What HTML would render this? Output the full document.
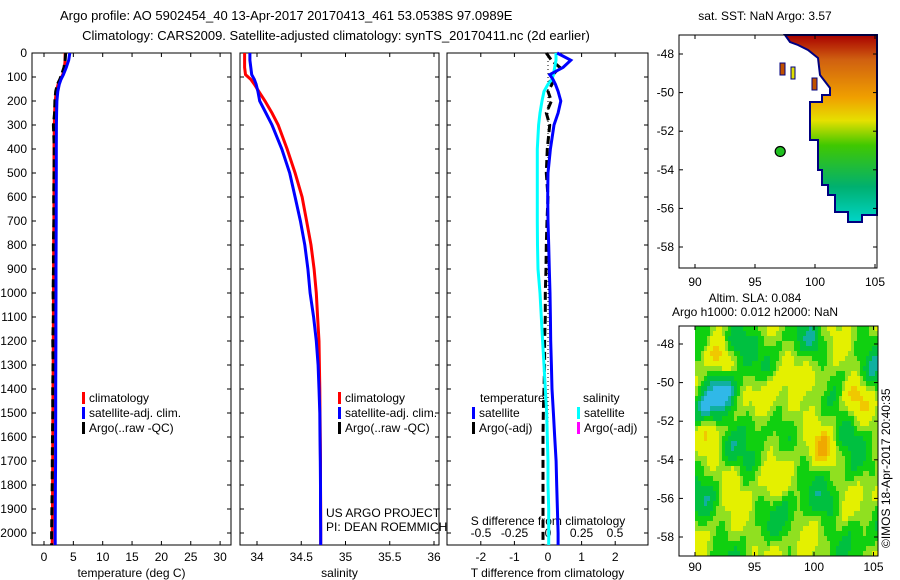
<!DOCTYPE html>
<html><head><meta charset="utf-8"><style>
body{margin:0;background:#fff}
svg{display:block;font-family:"Liberation Sans",sans-serif}
</style></head><body>
<svg id="c" width="900" height="580" xmlns="http://www.w3.org/2000/svg">
<defs>
<linearGradient id="sstg" x1="0" y1="35" x2="0" y2="225" gradientUnits="userSpaceOnUse">
<stop offset="0" stop-color="#a80000"/><stop offset="0.13" stop-color="#d06010"/><stop offset="0.33" stop-color="#f0a000"/><stop offset="0.45" stop-color="#e6e000"/><stop offset="0.58" stop-color="#40c800"/><stop offset="0.8" stop-color="#00b070"/><stop offset="1" stop-color="#00d8d0"/>
</linearGradient>
</defs>
<text x="60" y="20" font-size="13">Argo profile: AO 5902454_40 13-Apr-2017 20170413_461 53.0538S 97.0989E</text>
<text x="336" y="40" font-size="13" text-anchor="middle">Climatology: CARS2009. Satellite-adjusted climatology: synTS_20170411.nc (2d earlier)</text>
<g id="g"></g>
</svg>
<script>
// ---- data ----
const depthTicks=[0,100,200,300,400,500,600,700,800,900,1000,1100,1200,1300,1400,1500,1600,1700,1800,1900,2000];
const tempTicks=[0,5,10,15,20,25,30];
const salTicks=[34,34.5,35,35.5,36];
const tdTicks=[-2,-1,0,1,2];
const sdTicks=[-0.5,-0.25,0,0.25,0.5];
const sdTickLabels=["-0.5","-0.25","0","0.25","0.5"];
const profDepth=[0,30,60,90,110,130,160,200,250,300,400,500,600,700,800,900,1000,1100,1200,1300,1400,1500,1600,1700,1800,1900,2000,2050];
const tempClim=[3.6,3.6,3.5,3.2,2.8,2.4,2.1,1.9,1.8,1.75,1.7,1.7,1.7,1.68,1.66,1.64,1.62,1.6,1.58,1.56,1.54,1.52,1.5,1.48,1.46,1.44,1.42,1.4];
const tempSat=[4.4,4.2,3.8,3.3,2.9,2.6,2.35,2.2,2.15,2.12,2.1,2.1,2.08,2.07,2.06,2.05,2.04,2.03,2.02,2.01,2.0,1.99,1.98,1.97,1.95,1.93,1.9,1.9];
const tempArgo=[3.7,3.6,3.4,3.0,2.7,2.3,2.0,1.85,1.8,1.6,1.75,1.7,1.65,1.68,1.6,1.62,1.55,1.6,1.5,1.55,1.48,1.5,1.45,1.42,1.4,1.35,1.3,1.3];
const salClim=[33.86,33.86,33.86,33.87,33.93,33.97,34.02,34.09,34.17,34.24,34.34,34.43,34.51,34.56,34.61,34.645,34.67,34.685,34.70,34.705,34.71,34.712,34.715,34.717,34.718,34.72,34.72,34.72];
const salSat=[33.92,33.92,33.93,33.94,33.97,33.99,34.01,34.03,34.1,34.17,34.28,34.37,34.43,34.49,34.54,34.575,34.60,34.64,34.67,34.69,34.70,34.71,34.712,34.715,34.717,34.718,34.72,34.72];
const tdSat=[0.27,0.68,0.45,0.05,0.15,0.22,0.3,0.38,0.3,0.18,0.07,0.0,-0.01,0.0,0.02,0.04,0.06,0.07,0.08,0.1,0.12,0.16,0.2,0.24,0.26,0.28,0.3,0.3];
const tdArgo=[-0.05,0.1,0.35,0.15,0.05,0.12,0.0,0.1,-0.05,0.05,-0.02,-0.05,0.0,-0.03,-0.05,-0.06,-0.08,-0.08,-0.1,-0.1,-0.12,-0.14,-0.15,-0.15,-0.15,-0.15,-0.15,-0.15];
const sdSat=[0.06,0.06,0.05,0.04,0.03,0.0,-0.03,-0.045,-0.06,-0.07,-0.08,-0.08,-0.08,-0.08,-0.078,-0.075,-0.06,-0.05,-0.04,-0.03,-0.02,-0.01,-0.005,0.0,0.0,0.005,0.005,0.005];
const latTicks=[-48,-50,-52,-54,-56,-58];
const lonTicks=[90,95,100,105];
const slaBlobs=[[93.4,-47.8,-1.0],[92.3,-50.2,-0.9],[90.8,-51.3,-1.0],[92.5,-53.2,-0.7],[91.8,-48.6,0.6],[91.2,-52.4,0.6],[96.2,-50.3,0.5],[98.3,-51.7,0.5],[100.6,-53.3,0.7],[103.2,-50.5,0.6],[100.2,-49.8,0.4],[92.9,-54.7,0.5],[96,-55.2,0.3],[102.5,-52.5,-0.5],[94.6,-52,-0.5],[99.8,-47.8,-0.5],[105,-49.5,-0.5],[97.5,-56.5,-0.4],[96.5,-58.6,0.3],[104.8,-55.5,0.3],[101,-56,-0.4],[103.5,-57.5,-0.3],[90.5,-56,-0.3]];

const NS='http://www.w3.org/2000/svg';
const G=document.getElementById('g');
function el(t,a,p){const e=document.createElementNS(NS,t);for(const k in a)e.setAttribute(k,a[k]);(p||G).appendChild(e);return e;}
const yTop=53,yPx=0.24;
const yD=d=>yTop+d*yPx;
const PB=545;
const xT=v=>44+v*5.87, xS=v=>257+(v-34)*88.5, xTD=v=>548+v*33.6, xSD=v=>548+v*134;

function panel(name,x0,x1,ticks,sx,labels,title,showDepth){
  const r=el('rect',{x:x0,y:yTop,width:x1-x0,height:PB-yTop,fill:'none',stroke:'#000','stroke-width':1});
  
  ticks.forEach((t,i)=>{const x=sx(t);
    el('line',{x1:x,x2:x,y1:PB,y2:PB-4,stroke:'#000'});el('line',{x1:x,x2:x,y1:yTop,y2:yTop+4,stroke:'#000'});
    const tx=el('text',{x:x,y:PB+16,'font-size':12,'text-anchor':'middle'});tx.textContent=labels?labels[i]:t;
    });
  depthTicks.forEach(d=>{const y=yD(d);
    el('line',{x1:x0,x2:x0+4,y1:y,y2:y,stroke:'#000'});el('line',{x1:x1,x2:x1-4,y1:y,y2:y,stroke:'#000'});
    if(showDepth){const tx=el('text',{x:27,y:y+4,'font-size':12,'text-anchor':'end'});tx.textContent=d;
      }});
  const at=el('text',{x:(x0+x1)/2,y:577,'font-size':12,'text-anchor':'middle'});at.textContent=title;
  
}
function line(vals,sx,col,w,dash,name){
  const pts=vals.map((v,i)=>sx(v).toFixed(1)+','+yD(profDepth[i]).toFixed(1)).join(' ');
  const a={points:pts,fill:'none',stroke:col,'stroke-width':w};if(dash)a['stroke-dasharray']=dash;
  const p=el('polyline',a);
}
function leg(x,y,col,txt,name){el('rect',{x:x,y:y-10,width:3,height:12,fill:col});
  const t=el('text',{x:x+7,y:y,'font-size':12});t.textContent=txt;}

panel('temperature-panel',32,231,tempTicks,xT,null,'temperature (deg C)',true);
line(tempClim,xT,'#f00',3,null,'temp-climatology-line');
line(tempArgo,xT,'#000',3,'8,4','temp-argo-line');
line(tempSat,xT,'#00f',3,null,'temp-satellite-line');
leg(82,402,'#f00','climatology','legend-climatology');
leg(82,417,'#00f','satellite-adj. clim.','legend-satellite');
leg(82,432,'#000','Argo(..raw -QC)','legend-argo');

panel('salinity-panel',240,439,salTicks,xS,null,'salinity',false);
line(salClim,xS,'#f00',3,null,'sal-climatology-line');
line(salSat,xS,'#00f',3,null,'sal-satellite-line');
leg(338,402,'#f00','climatology','legend-climatology-s');
leg(338,417,'#00f','satellite-adj. clim.','legend-satellite-s');
leg(338,432,'#000','Argo(..raw -QC)','legend-argo-s');
let t=el('text',{x:326,y:517,'font-size':12});t.textContent='US ARGO PROJECT';
t=el('text',{x:326,y:531,'font-size':12});t.textContent='PI: DEAN ROEMMICH';

panel('difference-panel',447,648,tdTicks,xTD,null,'T difference from climatology',false);
sdTicks.forEach((v,i)=>{const tx=el('text',{x:xSD(v),y:537,'font-size':12,'text-anchor':'middle'});tx.textContent=sdTickLabels[i];
  });
t=el('text',{x:548,y:525,'font-size':12,'text-anchor':'middle'});t.textContent='S difference from climatology';
el('line',{x1:548,x2:548,y1:yTop,y2:PB,stroke:'#000','stroke-dasharray':'1,3'});
line(tdArgo,xTD,'#000',3,'8,4','t-diff-argo-line');
line(sdSat,xSD,'#00ffff',3,null,'s-diff-satellite-line');
line(tdSat,xTD,'#00f',3,null,'t-diff-satellite-line');
t=el('text',{x:480,y:402,'font-size':12});t.textContent='temperature';
t=el('text',{x:583,y:402,'font-size':12});t.textContent='salinity';
leg(472,417,'#00f','satellite','legend-t-satellite');
leg(472,432,'#000','Argo(-adj)','legend-t-argo');
leg(577,417,'#00ffff','satellite','legend-s-satellite');
leg(577,432,'#ff00ff','Argo(-adj)','legend-s-argo');

function mapAxes(name,x0,x1,y0,y1,lonX,latY,labY){
  lonTicks.forEach(l=>{const x=lonX(l);el('line',{x1:x,x2:x,y1:y1,y2:y1-4,stroke:'#000'});el('line',{x1:x,x2:x,y1:y0,y2:y0+4,stroke:'#000'});
    const tx=el('text',{x:x,y:labY,'font-size':12,'text-anchor':'middle'});tx.textContent=l;
    });
  latTicks.forEach(l=>{const y=latY(l);el('line',{x1:x0,x2:x0+4,y1:y,y2:y,stroke:'#000'});el('line',{x1:x1,x2:x1-4,y1:y,y2:y,stroke:'#000'});
    const tx=el('text',{x:x0-5,y:y+4,'font-size':12,'text-anchor':'end'});tx.textContent=l;
    });
  const r=el('rect',{x:x0,y:y0,width:x1-x0,height:y1-y0,fill:'none',stroke:'#000'});
  
}
const lx1=l=>695+(l-90)*12, ly1=l=>54+(-48-l)*19.3;
const sst=el('polygon',{points:'785,35 877,35 877,215 862,215 862,222 848,222 848,212 835,212 835,195 828,195 828,185 822,185 822,170 818,170 818,140 810,140 810,102 822,102 822,95 830,95 830,88 820,75 818,58 808,50 798,45 790,42',fill:'url(#sstg)',stroke:'#000080','stroke-width':2});

el('rect',{x:780,y:63,width:5,height:12,fill:'#c05000',stroke:'#000080'});
el('rect',{x:791,y:67,width:4,height:12,fill:'#e0e000',stroke:'#000080'});
el('rect',{x:812,y:78,width:5,height:12,fill:'#c05000',stroke:'#000080'});
const dot=el('circle',{cx:lx1(97.1),cy:ly1(-53.05),r:5,fill:'#20c020',stroke:'#000','stroke-width':1.2});

mapAxes('sst-map',679,877,35,268,lx1,ly1,286);
t=el('text',{x:765,y:20,'font-size':12,'text-anchor':'middle'});t.textContent='sat. SST: NaN Argo: 3.57';

const lx2=l=>695+(l-90)*11.9, ly2=l=>344+(-48-l)*19.3;
const cmap=[[0,'#30b8e8'],[0.15,'#10b0a0'],[0.25,'#00c040'],[0.4,'#10d010'],[0.52,'#90e020'],[0.62,'#e4f000'],[0.8,'#f0c800'],[0.92,'#f0a800']];
function col(v){v=Math.max(0,Math.min(1,v));for(let i=cmap.length-1;i>=0;i--)if(v>=cmap[i][0])return cmap[i][1];return cmap[0][1];}
const field=el('g',{});
for(let x=695;x<877;x+=3){for(let y=326;y<556;y+=5){
  const lon=90+(x-695)/11.9, lat=-48-(y-344)/19.3;
  let v=0.54+0.1*Math.sin(lon*1.3+lat*0.9)+0.08*Math.cos(lon*0.7-lat*1.4)+0.05*Math.sin(lon*2.9-lat*2.1);
  slaBlobs.forEach(b=>{const dx=(lon-b[0])/1.1,dy=(lat-b[1])/0.9;v+=b[2]*0.4*Math.exp(-(dx*dx+dy*dy));});
  el('rect',{x:x,y:y,width:3.2,height:5.2,fill:col(v)},field);}}
mapAxes('sla-map',679,878,326,556,lx2,ly2,571);
t=el('text',{x:755,y:302,'font-size':12,'text-anchor':'middle'});t.textContent='Altim. SLA: 0.084';
t=el('text',{x:755,y:316,'font-size':12,'text-anchor':'middle'});t.textContent='Argo h1000: 0.012 h2000: NaN';
t=el('text',{x:0,y:0,'font-size':12,transform:'translate(890,548) rotate(-90)'});t.textContent='©IMOS 18-Apr-2017 20:40:35';

</script>
</body></html>
